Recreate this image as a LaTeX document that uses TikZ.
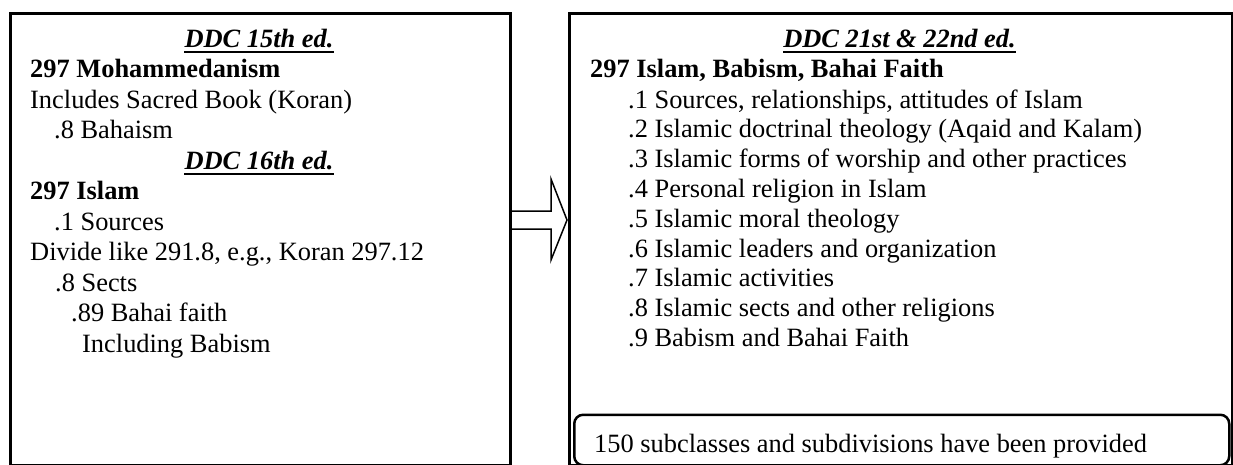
\documentclass[tikz,border=0pt]{standalone}
\usepackage{fontspec}
\setmainfont{Liberation Serif}
\usetikzlibrary{calc}
\begin{document}
\begin{tikzpicture}[x=1pt,y=-1pt,
  bigbox/.style={draw, line width=3pt, inner sep=0, anchor=north west},
  notebox/.style={draw, line width=2.5pt, rounded corners=9pt, inner sep=0, anchor=north west},
  txt/.style={anchor=base west, inner sep=0, font=\fontsize{26.4pt}{30pt}\selectfont},
  btxt/.style={txt, font=\fontsize{26.4pt}{30pt}\selectfont\bfseries},
  hdr/.style={anchor=base, inner sep=0, font=\fontsize{26.4pt}{30pt}\selectfont\bfseries\itshape},
  uline/.style={line width=2.6pt},
  blockarrow/.style={draw, line width=1.5pt, fill=white, line join=miter}]
\useasboundingbox (0,0) rectangle (1233,464);
% boxes
\node[bigbox, minimum width=500pt, minimum height=452pt] (lbox) at (9,12) {};
\node[bigbox, minimum width=663pt, minimum height=452pt] (rbox) at (568,12) {};
\node[notebox, minimum width=655pt, minimum height=50.5pt] (nbox) at (573,413.5) {};
% left box text
\node[hdr] (h15) at (259,47) {DDC 15th ed.};
\draw[uline] ($(h15.base west)+(0,4.8)$) -- ($(h15.base east)+(0,4.8)$);
\node[btxt] (l1) at (30,77.5) {297 Mohammedanism};
\node[txt] (l2) at (30,108) {Includes Sacred Book (Koran)};
\node[txt] (l3) at (54,138.5) {.8 Bahaism};
\node[hdr] (h16) at (259,169) {DDC 16th ed.};
\draw[uline] ($(h16.base west)+(0,4.8)$) -- ($(h16.base east)+(0,4.8)$);
\node[btxt] (l4) at (30,199.5) {297 Islam};
\node[txt] (l5) at (54,230) {.1 Sources};
\node[txt] (l6) at (30,260.5) {Divide like 291.8, e.g., Koran 297.12};
\node[txt] (l7) at (55,291) {.8 Sects};
\node[txt] (l8) at (71,321.5) {.89 Bahai faith};
\node[txt] (l9) at (82,352) {Including Babism};
% right box text
\node[hdr] (h21) at (899.5,47) {DDC 21st \& 22nd ed.};
\draw[uline] ($(h21.base west)+(0,4.8)$) -- ($(h21.base east)+(0,4.8)$);
\node[btxt] (r0) at (590,77.5) {297 Islam, Babism, Bahai Faith};
\node[txt] (r1) at (628,108) {.1 Sources, relationships, attitudes of Islam};
\node[txt] (r2) at (628,137.8) {.2 Islamic doctrinal theology (Aqaid and Kalam)};
\node[txt] (r3) at (628,167.6) {.3 Islamic forms of worship and other practices};
\node[txt] (r4) at (628,197.4) {.4 Personal religion in Islam};
\node[txt] (r5) at (628,227.2) {.5 Islamic moral theology};
\node[txt] (r6) at (628,257) {.6 Islamic leaders and organization};
\node[txt] (r7) at (628,286.8) {.7 Islamic activities};
\node[txt] (r8) at (628,316.6) {.8 Islamic sects and other religions};
\node[txt] (r9) at (628,346.4) {.9 Babism and Bahai Faith};
\node[txt] (n1) at (594,452) {150 subclasses and subdivisions have been provided};
% block arrow from left box to right box
\coordinate (tail) at (lbox.east |- 0,220);
\coordinate (tip) at (rbox.west |- 0,220);
\draw[blockarrow] ($(tail)+(0,-9)$) -- ($(tail)+(39,-9)$) -- ($(tail)+(39,-41)$)
  -- ($(tip)+(-1,0)$) -- ($(tail)+(39,40)$) -- ($(tail)+(39,9)$) -- ($(tail)+(0,9)$);
\end{tikzpicture}
\end{document}
